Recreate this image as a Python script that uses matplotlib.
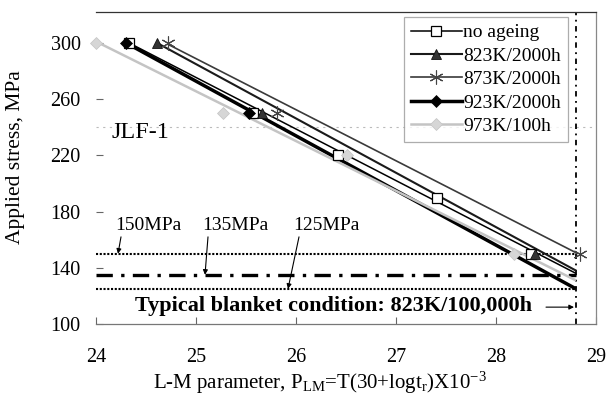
import matplotlib.pyplot as plt
from matplotlib.lines import Line2D

plt.rcParams['font.family'] = ['Liberation Serif', 'DejaVu Serif']
plt.rcParams['mathtext.fontset'] = 'custom'
plt.rcParams['mathtext.rm'] = 'Liberation Serif'
plt.rcParams['mathtext.it'] = 'Liberation Serif:italic'

# measured rupture points (L-M parameter, stress MPa)
noage_x = [24.33, 25.57, 26.42, 27.41, 28.35]
noage_y = [300, 250, 220, 190, 150]
k823_x = [24.61, 25.66, 28.39]
k823_y = [300, 250, 150]
k873_x = [24.72, 25.81, 28.84]
k873_y = [300, 250, 150]
k923_x = [24.30, 25.53]
k923_y = [300, 250]
k973_x = [24.00, 25.27, 26.51, 28.18]
k973_y = [300, 250, 220, 150]

# trend lines, extrapolated to the blanket condition
noage_fit_x = [24.33, 28.8]
noage_fit_y = [300, 136]
k823_fit_x = [24.61, 28.8]
k823_fit_y = [300, 138]
k873_fit_x = [24.72, 28.82]
k873_fit_y = [299, 150]
k923_fit_x = [24.30, 28.8]
k923_fit_y = [300, 125]
k973_fit_x = [24.00, 28.8]
k973_fit_y = [301, 131]

labels = ["no ageing", "823K/2000h", "873K/2000h", "923K/2000h", "973K/100h"]
blanket_x = 28.8
limit_stress = [150, 135, 125]
limit_labels = ["150MPa", "135MPa", "125MPa"]

fig = plt.figure(figsize=(6.14, 4.01), dpi=100)
ax = fig.add_axes([96 / 614, 77 / 401, 500 / 614, 312 / 401])

series = [
    (noage_x, noage_y, noage_fit_x, noage_fit_y,
     dict(color="black", lw=1.1), dict(marker="s", ms=7, mfc="white", mec="black", mew=0.9)),
    (k823_x, k823_y, k823_fit_x, k823_fit_y,
     dict(color="#1a1a1a", lw=1.5), dict(marker="^", ms=7, mfc="#333333", mec="#111111", mew=0.6)),
    (k873_x, k873_y, k873_fit_x, k873_fit_y,
     dict(color="#3a3a3a", lw=1.2), dict(marker=(6, 2, 0), ms=10, mfc="none", mec="#444444", mew=0.8)),
    (k923_x, k923_y, k923_fit_x, k923_fit_y,
     dict(color="black", lw=2.5), dict(marker="D", ms=6, mfc="black", mec="black", mew=0.5)),
    (k973_x, k973_y, k973_fit_x, k973_fit_y,
     dict(color="#c4c4c4", lw=1.8), dict(marker="D", ms=6, mfc="#d6d6d6", mec="#c4c4c4", mew=0.5)),
]

handles = []
for (px, py, fx, fy, lstyle, mstyle), lab in zip(series, labels):
    ax.plot(fx, fy, solid_capstyle="butt", zorder=3, **lstyle)
    ax.plot(px, py, ls="none", clip_on=False, zorder=4, **mstyle)
    handles.append(Line2D([], [], **lstyle, **mstyle))

# grid line
ax.axhline(240, color="#bbbbbb", lw=0.8, ls=(0, (2, 4)), zorder=1)

# blanket condition lines
ax.plot([24.0, blanket_x], [limit_stress[0]] * 2, color="black", lw=1.5, ls=(0, (1, 0.8)), zorder=2)
ax.plot([24.0, blanket_x], [limit_stress[1]] * 2, color="black", lw=2.4, ls=(0, (4.9, 2.5, 1, 2.5)), zorder=2)
ax.plot([24.0, blanket_x], [limit_stress[2]] * 2, color="black", lw=1.5, ls=(0, (1, 0.8)), zorder=2)
ax.axvline(blanket_x, color="black", lw=1.3, ls=(0, (3, 2.5, 1, 2.5)), zorder=2)

# stress labels with arrows
txt_x = [24.19, 25.06, 25.97]
tip_x = [24.22, 25.09, 25.92]
for tx, ix, s, lab in zip(txt_x, tip_x, limit_stress, limit_labels):
    ax.text(tx, 170, lab, fontsize=14, ha="left", va="center")
    ax.annotate("", xy=(ix, s), xytext=(tx + 0.06, 162),
                arrowprops=dict(arrowstyle="-|>", lw=0.8, color="black",
                                mutation_scale=7, shrinkA=0, shrinkB=0))

ax.text(24.39, 113, "Typical blanket condition: 823K/100,000h",
        fontsize=16, fontweight="bold", ha="left", va="center")
ax.annotate("", xy=(blanket_x - 0.02, 112), xytext=(28.5, 112),
            arrowprops=dict(arrowstyle="-|>", lw=0.8, color="black",
                            mutation_scale=7, shrinkA=0, shrinkB=0))

ax.text(24.16, 236, "JLF-1", fontsize=17.5, ha="left", va="center")

ax.set_xlim(24, 29)
ax.set_ylim(100, 322)
ax.set_xticks([24, 25, 26, 27, 28, 29])
ax.set_yticks([100, 140, 180, 220, 260, 300])
ax.tick_params(axis="both", direction="in", length=5, color="#666666", labelsize=14.5)
ax.tick_params(axis="x", pad=17)
ax.tick_params(axis="y", pad=11)

ax.spines["left"].set_visible(False)
ax.spines["top"].set_color("#333333")
ax.spines["right"].set_color("#888888")
ax.spines["bottom"].set_color("#777777")
for sp in ax.spines.values():
    sp.set_linewidth(0.9)

ax.set_ylabel("Applied stress, MPa", fontsize=15.5)
ax.yaxis.set_label_coords(-0.142, 0.535)
ax.text(0.448, -0.19, r"L-M parameter, P$_{\rm LM}$=T(30+logt$_{\rm r}$)X10$^{-3}$",
        transform=ax.transAxes, fontsize=15, ha="center", va="center")

leg = ax.legend(handles, labels, loc="upper right", bbox_to_anchor=(0.944, 0.984),
                fontsize=14, frameon=True, fancybox=False, handlelength=2.6,
                handletextpad=0.1, labelspacing=0.3, borderpad=0.35, borderaxespad=0)
leg.get_frame().set_edgecolor("#999999")
leg.get_frame().set_linewidth(0.9)

fig.savefig("out.png", dpi=100)
